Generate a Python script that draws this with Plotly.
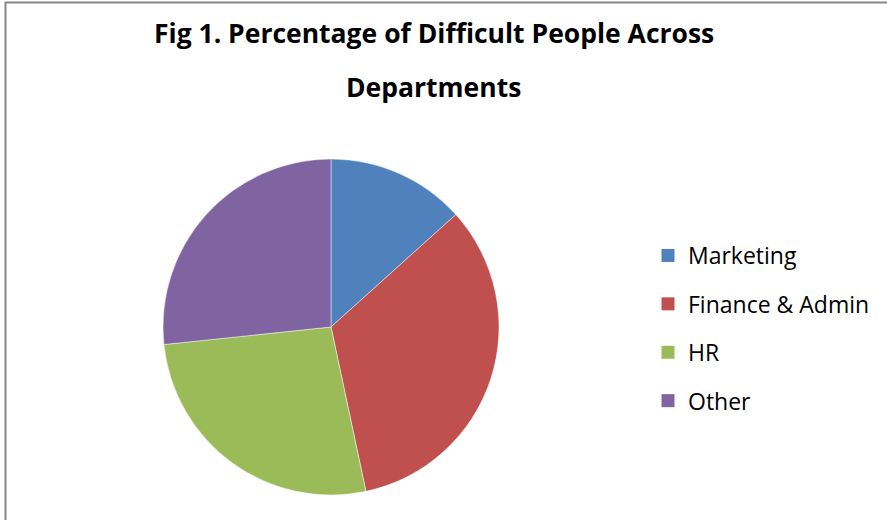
import plotly.graph_objects as go

departments = ["Marketing", "Finance & Admin", "HR", "Other"]
counts = [2, 5, 4, 4]
colors = ["#4F81BD", "#C0504D", "#9BBB59", "#8064A2"]
title_lines = ["Fig 1. Percentage of Difficult People Across", "Departments"]

W, H = 887, 520
fig = go.Figure()

cx, cy, r = 331, 327, 168
fig.add_trace(go.Pie(
    labels=departments, values=counts, sort=False, direction="clockwise", rotation=0,
    marker=dict(colors=colors, line=dict(color="rgba(255,255,255,0.6)", width=0.8)),
    textinfo="none", hoverinfo="label+percent", showlegend=False,
    domain=dict(x=[(cx - r) / W, (cx + r) / W], y=[1 - (cy + r) / H, 1 - (cy - r) / H]),
))

for i, (lab, col) in enumerate(zip(departments, colors)):
    fig.add_trace(go.Scatter(
        x=[None], y=[None], mode="markers", name=lab, legendgroup=f"g{i}",
        marker=dict(symbol="square", size=13, color=col), showlegend=True,
    ))

fig.add_annotation(text=f"<b>{title_lines[0]}</b>", x=433.5 / W, y=1 - 33 / H, xref="paper", yref="paper",
                   showarrow=False, xanchor="center", yanchor="middle",
                   font=dict(family="Open Sans", size=26.5, color="#000000"))
fig.add_annotation(text=f"<b>{title_lines[1]}</b>", x=433.5 / W, y=1 - 87 / H, xref="paper", yref="paper",
                   showarrow=False, xanchor="center", yanchor="middle",
                   font=dict(family="Open Sans", size=26.5, color="#000000"))

fig.add_shape(type="rect", xref="paper", yref="paper",
              x0=5.5 / W, x1=1.2, y0=-0.2, y1=1 - 2.5 / H,
              line=dict(color="#878787", width=2), fillcolor="rgba(0,0,0,0)")

fig.update_layout(
    width=W, height=H, margin=dict(l=0, r=0, t=0, b=0),
    paper_bgcolor="white", plot_bgcolor="white",
    xaxis=dict(visible=False), yaxis=dict(visible=False),
    legend=dict(x=648 / W, y=1 - 234 / H, xanchor="left", yanchor="top",
                font=dict(family="Open Sans", size=23, color="#000000"),
                tracegroupgap=15.5, itemwidth=30, bgcolor="rgba(0,0,0,0)"),
)

fig.write_html("out.html")
